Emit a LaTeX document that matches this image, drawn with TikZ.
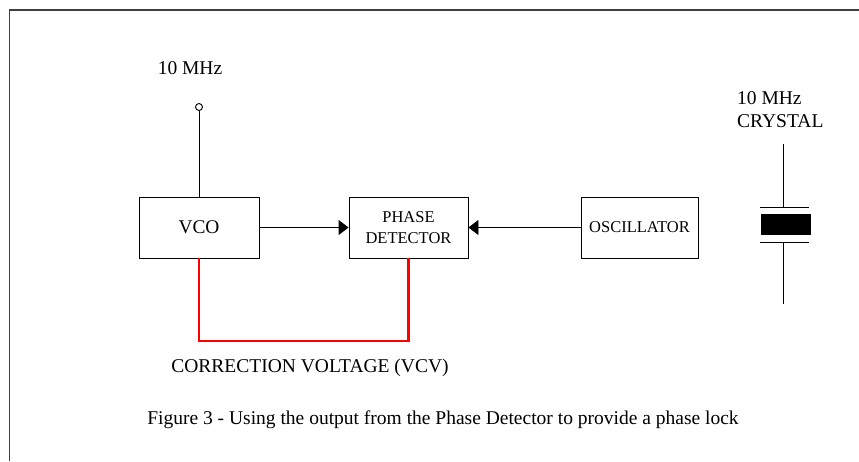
\documentclass[tikz,border=0pt]{standalone}
\usepackage{fontspec}
\setmainfont{Liberation Serif}
\usetikzlibrary{arrows.meta}
\begin{document}
\begin{tikzpicture}[x=1pt,y=-1pt,
  blk/.style={draw=black,line width=0.9pt,minimum width=120pt,minimum height=61pt,inner sep=0pt,align=center,font=\fontsize{19.4}{21}\selectfont},
  lbl/.style={inner sep=0pt,font=\fontsize{19.5}{22}\selectfont},
  wire/.style={draw=black,line width=0.9pt},
  sig/.style={wire,-{Triangle[length=10pt,width=15pt]}},
  corr/.style={draw=red,line width=2.2pt}]
\useasboundingbox (0,0) rectangle (859,461);
\draw[draw=black!75,line width=1.6pt] (9.5,461) -- (9.5,10) -- (859,10);
% blocks
\node[blk] (vco) at (199,227.5) {VCO};
\node[blk,minimum width=119pt,font=\fontsize{16.5}{21}\selectfont] (pd) at (408.5,227.5) {PHASE\\DETECTOR};
\node[blk,minimum width=117pt,font=\fontsize{16.5}{21}\selectfont] (osc) at (639.5,227.5) {OSCILLATOR};
% input terminal
\node[draw=black,circle,minimum size=7pt,inner sep=0pt,line width=0.9pt] (term) at (199,107) {};
\node[lbl] (lmhz) at (190,68) {10 MHz};
\draw[wire] (term) -- (vco);
% signal arrows
\draw[sig] (vco) -- (pd);
\draw[sig] (osc) -- (pd);
% correction voltage
\coordinate (r1) at (vco.south |- 0,341);
\coordinate (r2) at (pd.south |- 0,341);
\draw[corr] (vco.south) -- (r1) -- (r2) -- (pd.south);
\node[lbl] (cvlab) at (310,368) {CORRECTION VOLTAGE (VCV)};
% crystal
\node[lbl,anchor=west] (xlab1) at (737,98) {10 MHz};
\node[lbl,anchor=west] (xlab2) at (737,121) {CRYSTAL};
\coordinate (xt) at (783.5,144);
\coordinate (xp1) at (783.5,207);
\coordinate (xp2) at (783.5,242);
\coordinate (xb) at (783.5,304);
\draw[wire] (xt) -- (xp1);
\draw[wire] (760,207) -- (809,207);
\fill[black] (761,214) rectangle (811,235);
\draw[wire] (760,242) -- (809,242);
\draw[wire] (xp2) -- (xb);
% caption
\node[lbl] (cap) at (443,420) {Figure 3 - Using the output from the Phase Detector to provide a phase lock};
\end{tikzpicture}
\end{document}
